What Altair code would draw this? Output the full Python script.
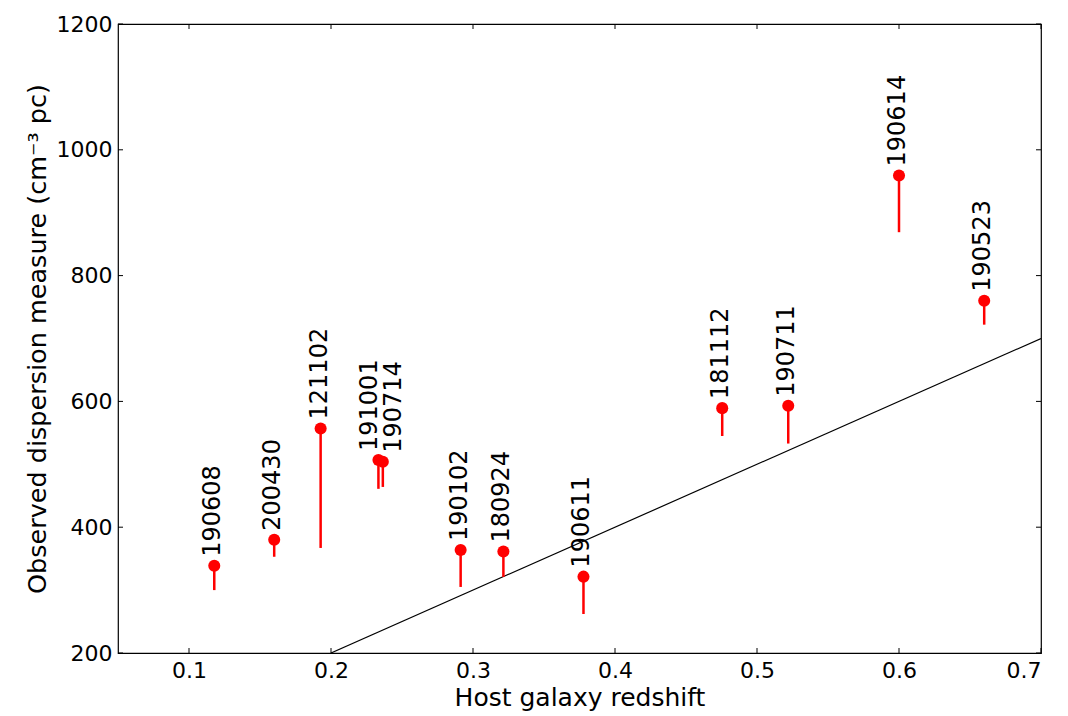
import altair as alt
import pandas as pd

# FRB data
names = ["190608", "200430", "121102", "191001", "190714", "190102",
         "180924", "190611", "181112", "190711", "190614", "190523"]
redshift = [0.1178, 0.160, 0.1927, 0.2334, 0.2365, 0.2913,
            0.3214, 0.3778, 0.4755, 0.5220, 0.6000, 0.6600]
dm_obs = [338.7, 380.1, 557.0, 506.9, 504.0, 363.6,
          361.4, 321.4, 589.3, 593.1, 959.2, 760.1]
dm_low = [300, 353, 367, 461, 464, 305,
          321, 262, 545, 533, 869, 722]

# reference relation (black line)
line_z = [0.2, 0.7]
line_dm = [200, 700]

# axis ticks
x_ticks = [0.1, 0.2, 0.3, 0.4, 0.5, 0.6, 0.7]
y_ticks = [200, 400, 600, 800, 1000, 1200]

W, H = 923, 629
FONT = "DejaVu Sans"

df = pd.DataFrame({"name": names, "z": redshift, "dm": dm_obs, "low": dm_low})
line_df = pd.DataFrame({"z": line_z, "dm": line_dm})
xt_df = pd.DataFrame({"z": x_ticks})
yt_df = pd.DataFrame({"dm": y_ticks})

xs = alt.Scale(domain=[0.05, 0.7], nice=False, zero=False)
ys = alt.Scale(domain=[200, 1200], nice=False, zero=False)

x_axis = alt.Axis(values=x_ticks, format=".1f", ticks=False, tickSize=0, grid=False,
                  labelFont=FONT, labelFontSize=22, labelColor="black", labelPadding=7,
                  titleFont=FONT, titleFontSize=25, titleFontWeight="normal",
                  titleColor="black", titlePadding=4, domain=False)
y_axis = alt.Axis(values=y_ticks, format="d", ticks=False, tickSize=0, grid=False,
                  labelFont=FONT, labelFontSize=22, labelColor="black", labelPadding=6,
                  titleFont=FONT, titleFontSize=25.5, titleFontWeight="normal",
                  titleColor="black", titlePadding=6, domain=False)

base = alt.Chart(df)

line = alt.Chart(line_df).mark_line(color="black", strokeWidth=1.2, clip=True).encode(
    x=alt.X("z:Q", scale=xs, axis=x_axis, title="Host galaxy redshift"),
    y=alt.Y("dm:Q", scale=ys, axis=y_axis,
            title="Observed dispersion measure (cm\u207b\u00b3  pc)"),
)

bars = base.mark_rule(color="#ff0000", strokeWidth=2.5).encode(
    x=alt.X("z:Q", scale=xs), y=alt.Y("dm:Q", scale=ys), y2="low:Q"
)

dots = base.mark_circle(color="#ff0000", opacity=1, size=145).encode(
    x=alt.X("z:Q", scale=xs), y=alt.Y("dm:Q", scale=ys)
)

def label_layer(filt, baseline, dy):
    return base.transform_filter(filt).mark_text(
        angle=270, align="left", baseline=baseline, dx=9, dy=dy,
        font=FONT, fontSize=24, color="black").encode(
        x=alt.X("z:Q", scale=xs), y=alt.Y("dm:Q", scale=ys), text="name:N")

labels_main = label_layer("datum.name != '191001' && datum.name != '190714'", "middle", -1)
labels_left = label_layer("datum.name == '191001'", "alphabetic", -1)
labels_right = label_layer("datum.name == '190714'", "top", -1)

# inward ticks on all four sides
xt_bottom = alt.Chart(xt_df).mark_rule(color="black", strokeWidth=1).encode(
    x=alt.X("z:Q", scale=xs), y=alt.value(H), y2=alt.value(H - 5))
xt_top = alt.Chart(xt_df).mark_rule(color="black", strokeWidth=1).encode(
    x=alt.X("z:Q", scale=xs), y=alt.value(0), y2=alt.value(5))
yt_left = alt.Chart(yt_df).mark_rule(color="black", strokeWidth=1).encode(
    y=alt.Y("dm:Q", scale=ys), x=alt.value(0), x2=alt.value(5))
yt_right = alt.Chart(yt_df).mark_rule(color="black", strokeWidth=1).encode(
    y=alt.Y("dm:Q", scale=ys), x=alt.value(W), x2=alt.value(W - 5))

chart = alt.layer(line, bars, dots, labels_main, labels_left, labels_right,
                  xt_bottom, xt_top, yt_left, yt_right).properties(
    width=W, height=H,
    padding={"left": 118, "top": 24, "right": 27, "bottom": 63},
    autosize="none",
    background="white",
).configure_view(stroke="black", strokeWidth=1.2)

chart.save("out.html", embed_options={"renderer": "svg", "actions": False})
